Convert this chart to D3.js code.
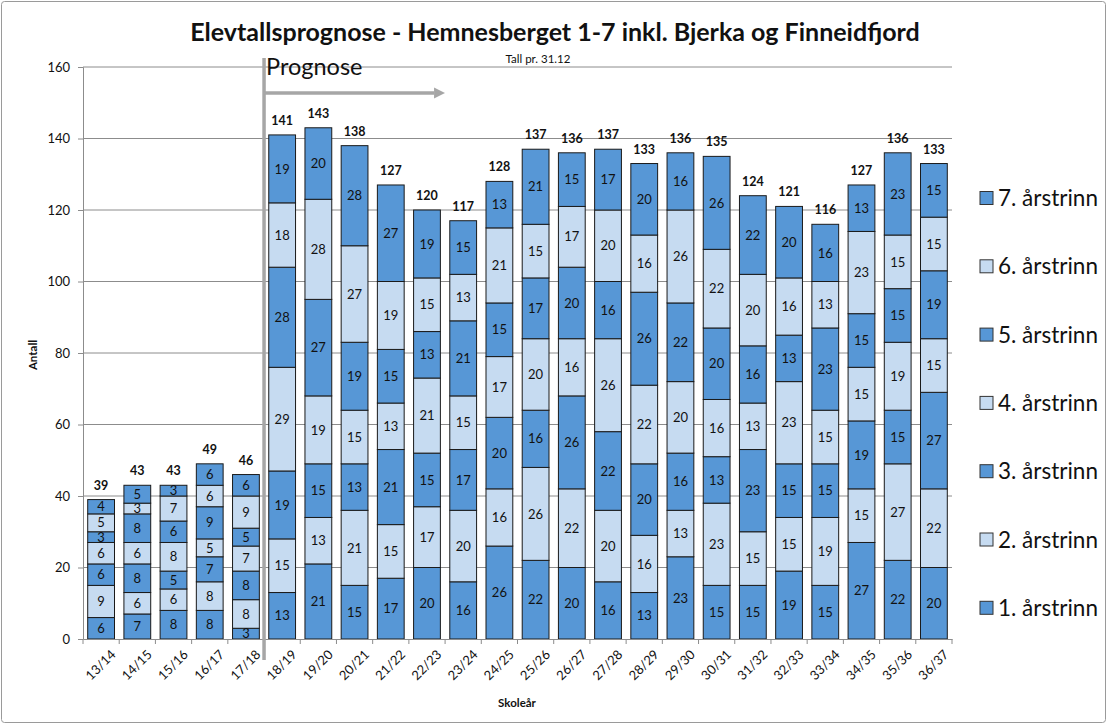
<!DOCTYPE html>
<html><head><meta charset="utf-8">
<script src="https://cdn.jsdelivr.net/npm/d3@7"></script>
<style>body{margin:0;background:#fff;} svg{display:block;font-family:Lato, "Open Sans", sans-serif;}</style>
</head><body><svg id="c" width="1107" height="725"></svg>
<script>
const categories = ["13/14","14/15","15/16","16/17","17/18","18/19","19/20","20/21","21/22","22/23","23/24","24/25","25/26","26/27","27/28","28/29","29/30","30/31","31/32","32/33","33/34","34/35","35/36","36/37"];
const seriesNames = ["1. årstrinn","2. årstrinn","3. årstrinn","4. årstrinn","5. årstrinn","6. årstrinn","7. årstrinn"];
const trinn1 = [6,7,8,8,3,13,21,15,17,20,16,26,22,20,16,13,23,15,15,19,15,27,22,20];
const trinn2 = [9,6,6,8,8,15,13,21,15,17,20,16,26,22,20,16,13,23,15,15,19,15,27,22];
const trinn3 = [6,8,5,7,8,19,15,13,21,15,17,20,16,26,22,20,16,13,23,15,15,19,15,27];
const trinn4 = [6,6,8,5,7,29,19,15,13,21,15,17,20,16,26,22,20,16,13,23,15,15,19,15];
const trinn5 = [3,8,6,9,5,28,27,19,15,13,21,15,17,20,16,26,22,20,16,13,23,15,15,19];
const trinn6 = [5,3,7,6,9,18,28,27,19,15,13,21,15,17,20,16,26,22,20,16,13,23,15,15];
const trinn7 = [4,5,3,6,6,19,20,28,27,19,15,13,21,15,17,20,16,26,22,20,16,13,23,15];
const yTicks = [0,20,40,60,80,100,120,140,160];
const prognoseStart = "18/19";

const series = [trinn1,trinn2,trinn3,trinn4,trinn5,trinn6,trinn7];
const colors = ["#5797d6","#c6dbf1","#5797d6","#c6dbf1","#5797d6","#c6dbf1","#5797d6"];

const svg = d3.select("#c");
svg.append("rect").attr("x",1.5).attr("y",1.5).attr("width",1104).attr("height",721).attr("rx",3)
  .attr("fill","#fff").attr("stroke","#9a9a9a");

const m = {l:83, r:952, t:67, b:639};
const x = d3.scaleBand().domain(categories).range([m.l,m.r]).paddingInner(0.26).paddingOuter(0.13);
const y = d3.scaleLinear().domain([0,160]).range([m.b,m.t]);

// gridlines
svg.append("g").selectAll("line").data(yTicks.filter(d=>d>0)).join("line")
  .attr("x1",m.l).attr("x2",m.r).attr("y1",d=>y(d)).attr("y2",d=>y(d))
  .attr("stroke","#8c8c8c").attr("stroke-width",1);

// stacked data
const rows = categories.map((c,i)=>{const o={cat:c}; seriesNames.forEach((s,k)=>o[s]=series[k][i]); return o;});
const stack = d3.stack().keys(seriesNames)(rows);

const g = svg.append("g");
stack.forEach((layer,k)=>{
  g.selectAll(null).data(layer).join("rect")
    .attr("x",d=>x(d.data.cat)).attr("width",x.bandwidth())
    .attr("y",d=>y(d[1])).attr("height",d=>y(d[0])-y(d[1]))
    .attr("fill",colors[k]).attr("stroke","#1a1a1a").attr("stroke-width",1);
});
stack.forEach((layer,k)=>{
  g.selectAll(null).data(layer).join("text")
    .attr("x",d=>x(d.data.cat)+x.bandwidth()/2).attr("y",d=>(y(d[0])+y(d[1]))/2)
    .attr("dy","0.36em").attr("text-anchor","middle").attr("font-size",13).attr("fill","#111")
    .text(d=>d[1]-d[0]);
});
// totals
const totals = categories.map((c,i)=>d3.sum(series,s=>s[i]));
g.selectAll(null).data(categories).join("text")
  .attr("x",c=>x(c)+x.bandwidth()/2).attr("y",(c,i)=>y(totals[i])-10)
  .attr("text-anchor","middle").attr("font-size",12.5).attr("font-weight","bold").attr("fill","#111")
  .text((c,i)=>totals[i]);

// axes
const ya = svg.append("g").attr("transform",`translate(${m.l},0)`)
  .call(d3.axisLeft(y).tickValues(yTicks).tickSize(5).tickPadding(8));
ya.select(".domain").attr("stroke","#8c8c8c");
ya.selectAll(".tick line").attr("stroke","#8c8c8c");
ya.selectAll("text").attr("font-size",13).attr("font-family","Lato, sans-serif").attr("fill","#111");

const xa = svg.append("g").attr("transform",`translate(0,${m.b})`)
  .call(d3.axisBottom(x).tickSize(0).tickPadding(0));
xa.select(".domain").attr("stroke","#8c8c8c");
xa.selectAll(".tick text").attr("font-size",13).attr("font-family","Lato, sans-serif").attr("fill","#111")
  .attr("text-anchor","end").attr("transform","translate(9,10) rotate(-45)").attr("dy","0.7em");
// category separator ticks
const step = x.step();
svg.append("g").selectAll("line").data(d3.range(categories.length+1)).join("line")
  .attr("x1",i=>m.l+i*step).attr("x2",i=>m.l+i*step).attr("y1",m.b).attr("y2",m.b+5)
  .attr("stroke","#8c8c8c");

// Prognose marker
const px = m.l + categories.indexOf(prognoseStart)*step;
svg.append("line").attr("x1",px).attr("x2",px).attr("y1",58).attr("y2",660)
  .attr("stroke","#a6a6a6").attr("stroke-width",3.5);
svg.append("defs").append("marker").attr("id","arr").attr("viewBox","0 0 10 10").attr("refX",0).attr("refY",5)
  .attr("markerWidth",3.2).attr("markerHeight",3.2).attr("orient","auto")
  .append("path").attr("d","M0,0L10,5L0,10Z").attr("fill","#a6a6a6");
svg.append("line").attr("x1",px).attr("x2",px+170).attr("y1",93).attr("y2",93)
  .attr("stroke","#a6a6a6").attr("stroke-width",3.5).attr("marker-end","url(#arr)");
svg.append("text").attr("x",px+2).attr("y",75).attr("font-size",23.5).attr("fill","#111").text("Prognose");

// titles
svg.append("text").attr("x",555).attr("y",41).attr("text-anchor","middle").attr("font-size",25)
  .attr("font-weight","bold").attr("fill","#111").text("Elevtallsprognose - Hemnesberget 1-7 inkl. Bjerka og Finneidfjord");
svg.append("text").attr("x",538).attr("y",63).attr("text-anchor","middle").attr("font-size",11.5).attr("fill","#111").text("Tall pr. 31.12");
svg.append("text").attr("transform","translate(37,355) rotate(-90)").attr("text-anchor","middle")
  .attr("font-size",11.5).attr("font-weight","bold").attr("fill","#111").text("Antall");
svg.append("text").attr("x",517).attr("y",707).attr("text-anchor","middle")
  .attr("font-size",11.5).attr("font-weight","bold").attr("fill","#111").text("Skoleår");

// legend
const leg = svg.append("g");
const legItems = seriesNames.map((s,k)=>({s,k})).reverse();
legItems.forEach((d,i)=>{
  const yy = 198 + i*68.3;
  leg.append("rect").attr("x",980).attr("y",yy-6.5).attr("width",13).attr("height",13)
    .attr("fill",colors[d.k]).attr("stroke","#333").attr("stroke-width",1);
  leg.append("text").attr("x",998).attr("y",yy).attr("dy","0.36em").attr("font-size",22.5).attr("fill","#111").text(d.s);
});
</script></body></html>
